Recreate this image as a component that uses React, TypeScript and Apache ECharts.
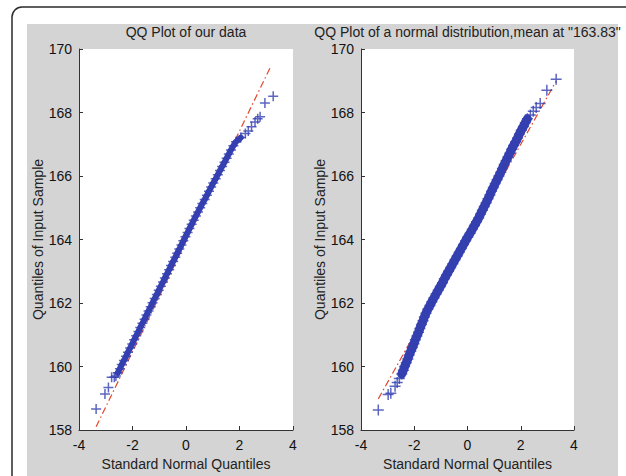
import React, { useEffect, useRef } from "react";
import * as echarts from "echarts";

// Each panel: x = standard normal quantile, y = sample value.
// "Core" holds the densely packed middle of the sample, "low"/"high" the sparse tails.
const leftLowQ = [-3.36, -3.03, -2.9, -2.78, -2.68, -2.62];
const leftLowV = [158.66, 159.13, 159.34, 159.66, 159.66, 159.7];
const leftCoreQ = [
  -2.55, -2.47, -2.4, -2.32, -2.24, -2.17, -2.09, -2.01, -1.94, -1.86,
  -1.78, -1.71, -1.63, -1.55, -1.48, -1.4, -1.32, -1.25, -1.17, -1.09,
  -1.02, -0.94, -0.86, -0.79, -0.71, -0.63, -0.56, -0.48, -0.4, -0.33,
  -0.25, -0.17, -0.1, -0.02, 0.06, 0.13, 0.21, 0.29, 0.37, 0.45,
  0.53, 0.61, 0.7, 0.78, 0.86, 0.94, 1.02, 1.11, 1.19, 1.27,
  1.35, 1.44, 1.52, 1.6, 1.68, 1.77, 1.87, 2.05,
];
const leftCoreV = [
  159.8, 159.93, 160.06, 160.19, 160.32, 160.45, 160.58, 160.71, 160.84, 160.97,
  161.1, 161.23, 161.36, 161.49, 161.62, 161.75, 161.88, 162.01, 162.14, 162.27,
  162.4, 162.53, 162.66, 162.79, 162.92, 163.05, 163.18, 163.31, 163.44, 163.57,
  163.7, 163.83, 163.96, 164.09, 164.22, 164.35, 164.48, 164.61, 164.74, 164.87,
  165.0, 165.13, 165.26, 165.39, 165.52, 165.65, 165.78, 165.91, 166.04, 166.17,
  166.3, 166.43, 166.56, 166.69, 166.82, 166.95, 167.08, 167.21,
];
const leftHighQ = [2.22, 2.33, 2.45, 2.58, 2.68, 2.77, 2.95, 3.26];
const leftHighV = [167.34, 167.42, 167.55, 167.7, 167.8, 167.87, 168.3, 168.51];
// Dash-dot reference line end points
const leftRefX = [-3.36, 3.14];
const leftRefY = [158.1, 169.4];

const rightLowQ = [-3.35, -2.98, -2.88, -2.72, -2.64, -2.56];
const rightLowV = [158.63, 159.12, 159.16, 159.38, 159.5, 159.62];
const rightCoreQ = [
  -2.47, -2.41, -2.36, -2.3, -2.24, -2.19, -2.13, -2.07, -2.01, -1.96,
  -1.9, -1.84, -1.79, -1.73, -1.67, -1.62, -1.56,
  -1.49, -1.41, -1.34, -1.26, -1.18, -1.1, -1.02, -0.94, -0.87, -0.79, -0.71,
  -0.63, -0.55, -0.47, -0.39, -0.31, -0.23, -0.15, -0.07, 0.01, 0.1,
  0.18, 0.26, 0.34, 0.42,
  0.49, 0.56, 0.63, 0.7, 0.77, 0.84, 0.9, 0.97, 1.04, 1.11,
  1.18, 1.25, 1.31, 1.38, 1.45, 1.52, 1.59,
  1.66, 1.73, 1.81, 1.88, 1.95, 2.02, 2.1, 2.17, 2.25,
];
const rightCoreV = [
  159.76, 159.88, 160.0, 160.12, 160.24, 160.36, 160.48, 160.6, 160.72, 160.84,
  160.96, 161.08, 161.2, 161.32, 161.44, 161.56, 161.68,
  161.8, 161.92, 162.04, 162.16, 162.28, 162.4, 162.52, 162.64, 162.76, 162.88, 163.0,
  163.12, 163.24, 163.36, 163.48, 163.6, 163.72, 163.84, 163.96, 164.08, 164.2,
  164.32, 164.44, 164.56, 164.68,
  164.8, 164.92, 165.04, 165.16, 165.28, 165.4, 165.52, 165.64, 165.76, 165.88,
  166.0, 166.12, 166.24, 166.36, 166.48, 166.6, 166.72,
  166.84, 166.96, 167.08, 167.2, 167.32, 167.44, 167.56, 167.68, 167.8,
];
const rightHighQ = [2.36, 2.47, 2.58, 2.73, 2.98, 3.33];
const rightHighV = [167.92, 168.04, 168.16, 168.28, 168.7, 169.05];
const rightRefX = [-3.35, 3.33];
const rightRefY = [158.98, 168.99];

const panelTitles = ["QQ Plot of our data", 'QQ Plot of a normal distribution,mean at "163.83"'];
const xAxisTitle = "Standard Normal Quantiles";
const yAxisTitle = "Quantiles of Input Sample";

const FONT = "'Liberation Sans', Arial, Helvetica, sans-serif";
const AXIS_COLOR = "#333333";
const MARKER_COLOR = "#3540b0";
const REF_COLOR = "#e2472f";
const CROSS = "path://M5,0L5,10M0,5L10,5";

const pairs = (xs: number[], ys: number[]) => xs.map((x, i) => [x, ys[i]]);

const grids = [
  { left: 79, top: 49, width: 214, height: 384 },
  { left: 361, top: 49, width: 213, height: 384 },
];

function buildOption() {
  const textStyle = { fontFamily: FONT, fontSize: 14, color: "#111" };
  const xAxes = grids.map((_, i) => ({
    type: "value",
    gridIndex: i,
    min: -4,
    max: 4,
    interval: 2,
    axisLine: { show: true, onZero: false, lineStyle: { color: AXIS_COLOR, width: 1 } },
    axisTick: { show: true, inside: true, length: 4, lineStyle: { color: AXIS_COLOR } },
    axisLabel: { margin: 8, ...textStyle },
    splitLine: { show: false },
    name: xAxisTitle,
    nameLocation: "middle",
    nameGap: 27,
    nameTextStyle: { ...textStyle, color: "#222" },
  }));
  const yAxes = grids.map((_, i) => ({
    type: "value",
    gridIndex: i,
    min: 158,
    max: 170,
    interval: 2,
    axisLine: { show: true, onZero: false, lineStyle: { color: AXIS_COLOR, width: 1 } },
    axisTick: { show: true, inside: true, length: 4, lineStyle: { color: AXIS_COLOR } },
    axisLabel: { margin: 7, ...textStyle },
    splitLine: { show: false },
    name: yAxisTitle,
    nameLocation: "middle",
    nameGap: i === 0 ? 27 : 22,
    nameTextStyle: { ...textStyle, color: "#222" },
  }));

  const panels = [
    {
      core: pairs(leftCoreQ, leftCoreV),
      all: pairs(leftLowQ, leftLowV).concat(pairs(leftCoreQ, leftCoreV), pairs(leftHighQ, leftHighV)),
      ref: pairs(leftRefX, leftRefY),
      bandWidth: 6,
      size: 10,
    },
    {
      core: pairs(rightCoreQ, rightCoreV),
      all: pairs(rightLowQ, rightLowV).concat(pairs(rightCoreQ, rightCoreV), pairs(rightHighQ, rightHighV)),
      ref: pairs(rightRefX, rightRefY),
      bandWidth: 9,
      size: 11,
    },
  ];
  const series: any[] = [];
  panels.forEach((p, i) => {
    series.push({
      type: "line",
      xAxisIndex: i,
      yAxisIndex: i,
      data: p.ref,
      symbol: "none",
      silent: true,
      lineStyle: { color: REF_COLOR, width: 1.2, type: [7, 3, 1.5, 3] },
      z: 2,
    });
    // overlapping markers in the dense middle merge into a solid band
    series.push({
      type: "line",
      xAxisIndex: i,
      yAxisIndex: i,
      data: p.core,
      symbol: "none",
      silent: true,
      lineStyle: { color: MARKER_COLOR, width: p.bandWidth, cap: "round", join: "round" },
      z: 3,
    });
    series.push({
      type: "scatter",
      xAxisIndex: i,
      yAxisIndex: i,
      data: p.all,
      symbol: CROSS,
      symbolSize: p.size,
      silent: true,
      itemStyle: { color: "rgba(0,0,0,0)", borderColor: MARKER_COLOR, borderWidth: 1.5 },
      z: 4,
    });
  });

  return {
    animation: false,
    backgroundColor: "#ffffff",
    title: panelTitles.map((t, i) => ({
      text: t,
      left: grids[i].left + grids[i].width / 2,
      top: 25,
      textAlign: "center",
      padding: 0,
      textStyle: { fontFamily: FONT, fontSize: 14, fontWeight: "normal", color: "#222" },
    })),
    graphic: [
      {
        type: "rect",
        z: -20,
        silent: true,
        shape: { x: 12, y: 7, width: 700, height: 600, r: 10 },
        style: { fill: "#ffffff", stroke: "#2b2b2b", lineWidth: 1.5 },
      },
      {
        type: "rect",
        z: -19,
        silent: true,
        shape: { x: 27, y: 24, width: 591, height: 460 },
        style: { fill: "#d4d4d4" },
      },
    ],
    grid: grids.map((g) => ({ ...g, show: true, backgroundColor: "#ffffff", borderWidth: 0 })),
    xAxis: xAxes,
    yAxis: yAxes,
    series,
  };
}

export default function App() {
  const ref = useRef<HTMLDivElement>(null);
  useEffect(() => {
    if (!ref.current) return;
    const chart = echarts.init(ref.current, undefined, { renderer: "svg" });
    chart.setOption(buildOption() as any);
    return () => chart.dispose();
  }, []);
  return (
    <div
      ref={ref}
      style={{ position: "absolute", left: 0, top: 0, width: 626, height: 476 }}
    />
  );
}
